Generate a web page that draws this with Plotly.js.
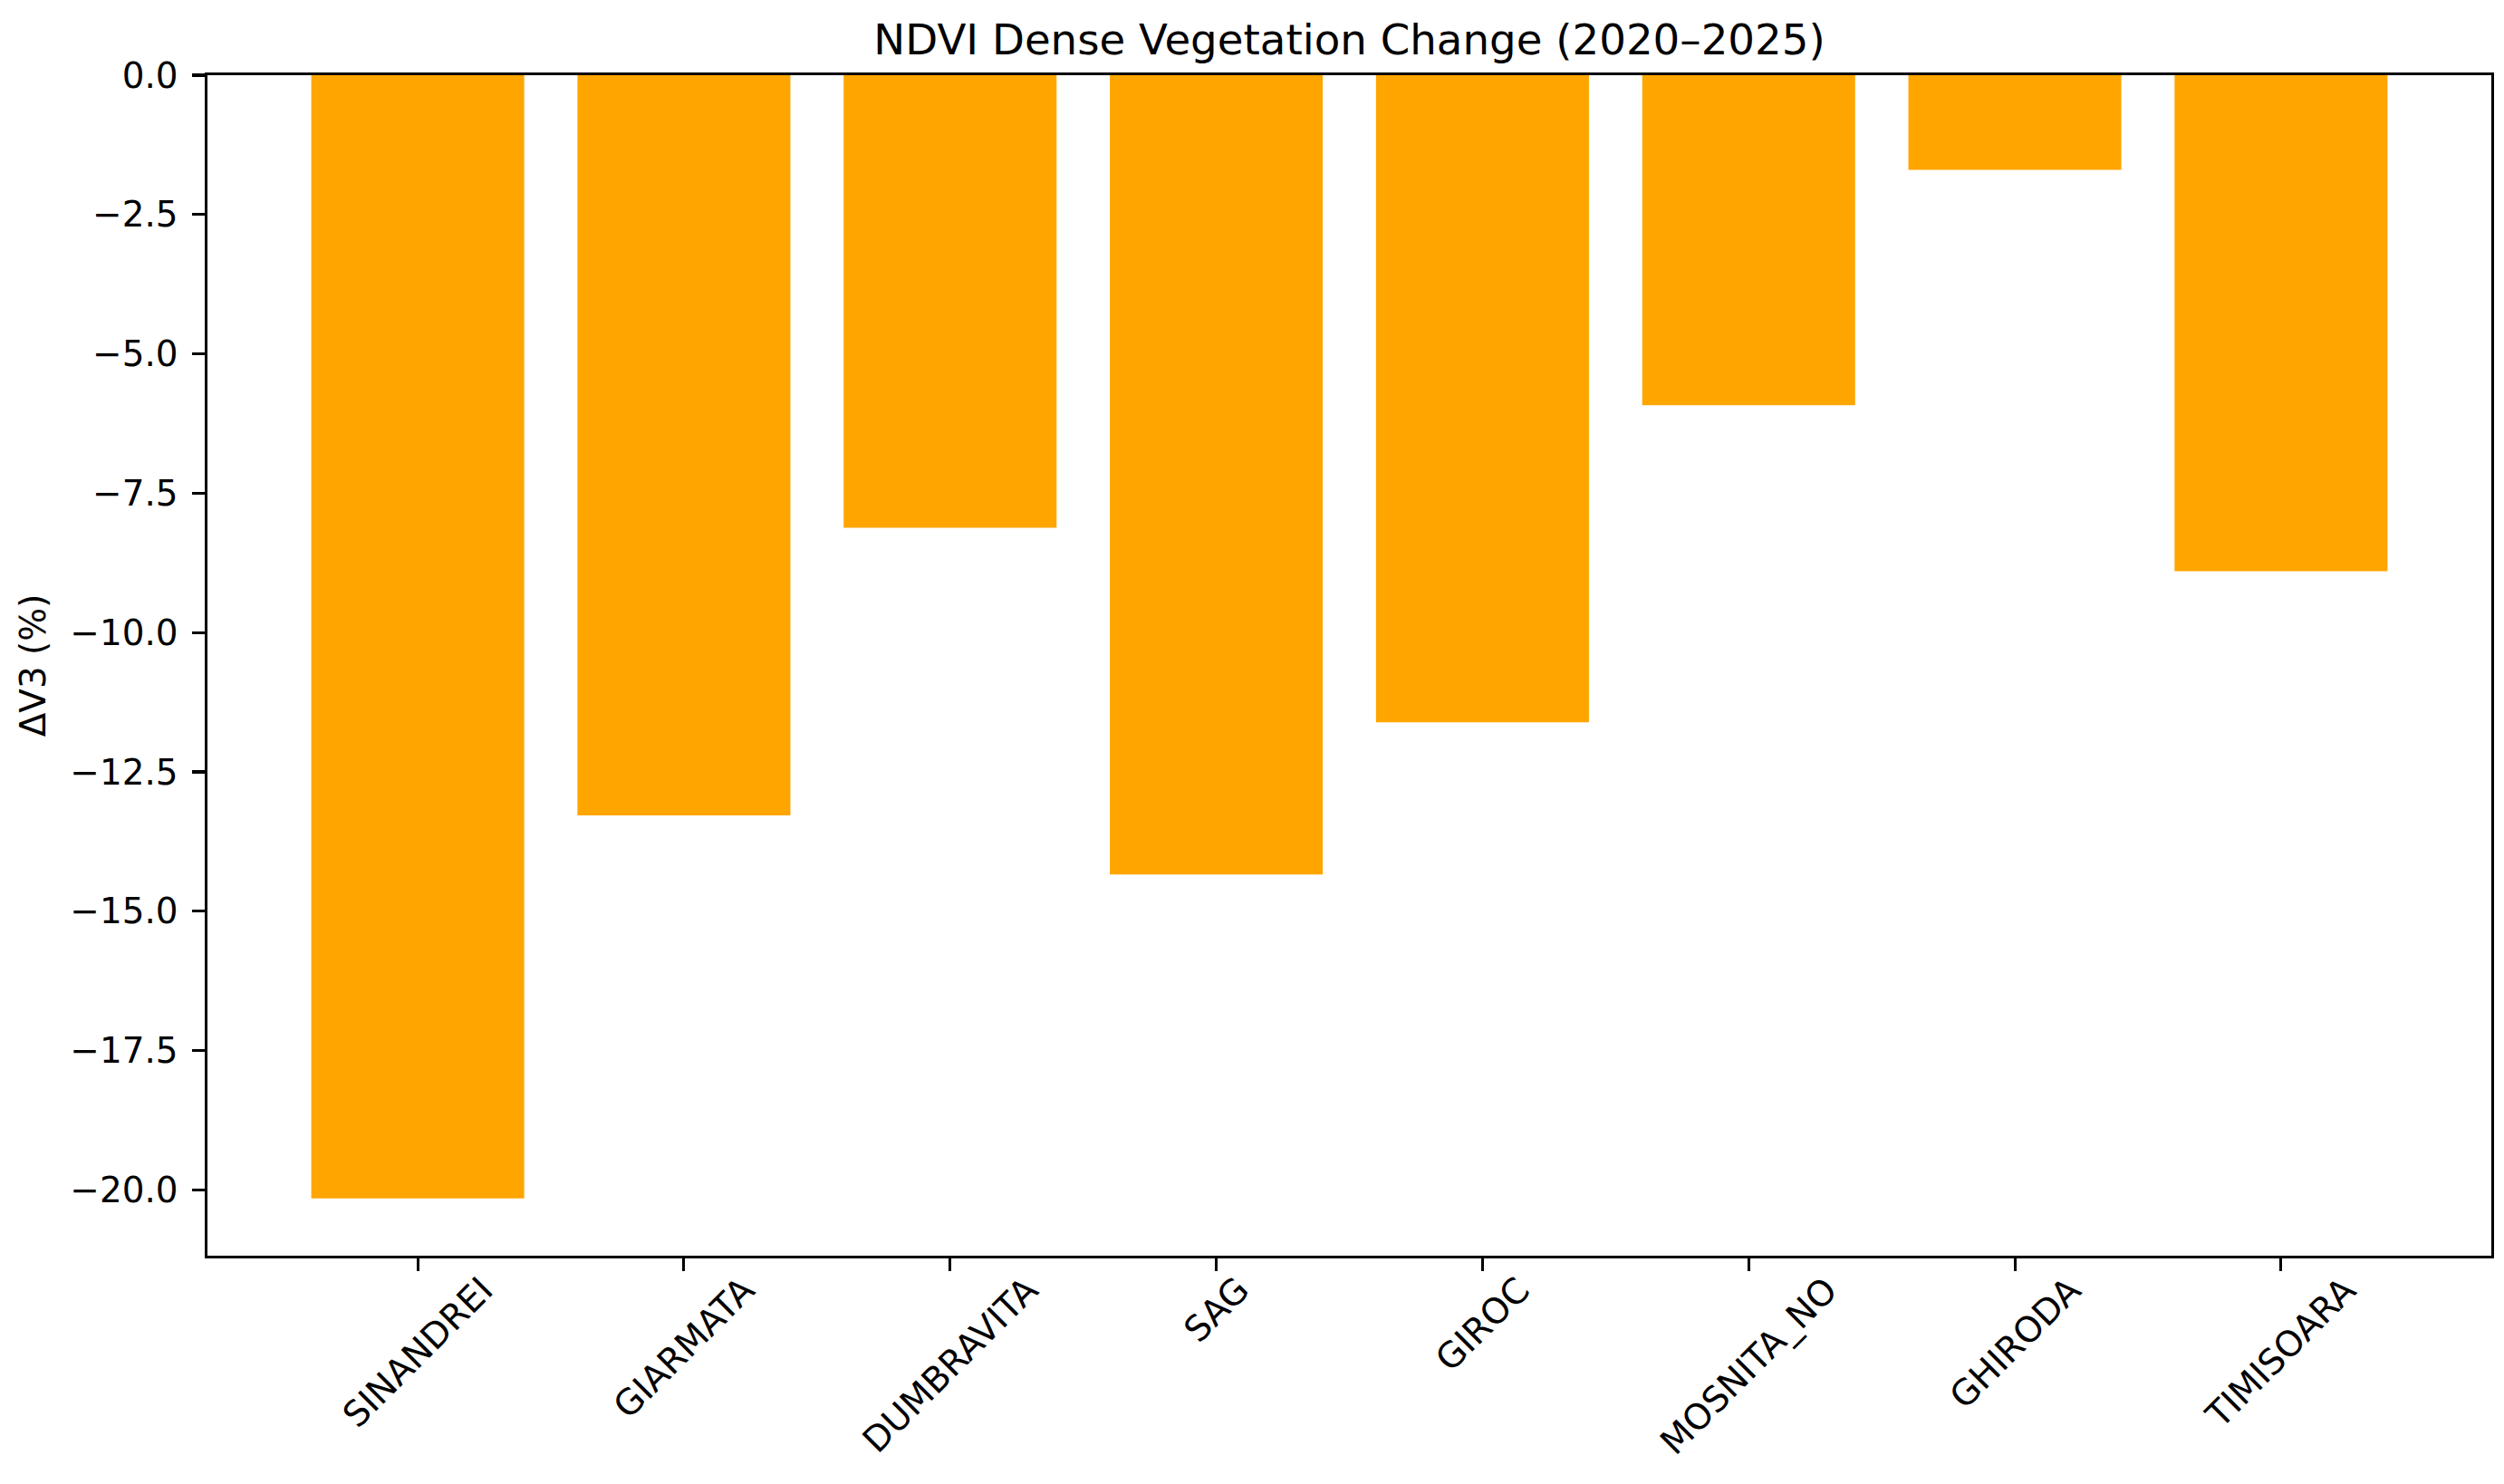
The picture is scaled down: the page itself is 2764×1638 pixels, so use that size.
<!DOCTYPE html>
<html>
<head>
<meta charset="utf-8">
<script src="https://cdn.plot.ly/plotly-3.0.1.min.js"></script>
<style>html,body{margin:0;padding:0;background:#fff;}#chart{width:2764px;height:1638px;}</style>
</head>
<body>
<div id="chart"></div>
<script>
const categories = ["SINANDREI", "GIARMATA", "DUMBRAVITA", "SAG", "GIROC", "MOSNITA_NO", "GHIRODA", "TIMISOARA"];
const deltaV3 = [-20.15, -13.28, -8.12, -14.34, -11.61, -5.92, -1.70, -8.90];
const yTickVals = [0, -2.5, -5, -7.5, -10, -12.5, -15, -17.5, -20];
const titleText = "NDVI Dense Vegetation Change (2020–2025)";
const yTitleText = "ΔV3 (%)";

const FONT = "DejaVu Sans, Liberation Sans, sans-serif";
const FS = 38.9;
const LW = 3.1;
const TL = 13.6;

const trace = {
  type: "bar",
  x: categories,
  y: deltaV3,
  width: 0.8,
  marker: {color: "#FFA500", line: {width: 0}},
  hoverinfo: "x+y"
};

const annotations = categories.map(c => ({
  x: c, xref: "x",
  y: 0, yref: "paper",
  yshift: -12,
  text: c,
  showarrow: false,
  textangle: -45,
  xanchor: "center",
  yanchor: "top",
  font: {family: FONT, size: FS, color: "#000"}
}));

const layout = {
  width: 2764,
  height: 1638,
  paper_bgcolor: "#fff",
  plot_bgcolor: "#fff",
  margin: {l: 229, r: 14, t: 83, b: 252, pad: 0},
  showlegend: false,
  bargap: 0.2,
  title: {
    text: titleText,
    font: {family: FONT, size: 46.7, color: "#000"},
    x: 0.5, xref: "paper", xanchor: "center",
    y: (1638 - 60) / 1638, yref: "container", yanchor: "bottom"
  },
  xaxis: {
    type: "category",
    range: [-0.79, 7.79],
    showticklabels: false,
    ticks: "outside",
    ticklen: TL,
    tickwidth: LW,
    tickcolor: "#000",
    showline: true,
    linecolor: "#000",
    linewidth: LW,
    mirror: true,
    showgrid: false,
    zeroline: false,
    fixedrange: true
  },
  yaxis: {
    range: [-21.18, 0],
    tickvals: yTickVals,
    tickformat: ".1f",
    ticks: "outside",
    ticklen: TL,
    tickwidth: LW,
    tickcolor: "#000",
    ticklabelstandoff: 8,
    tickfont: {family: FONT, size: FS, color: "#000"},
    showline: true,
    linecolor: "#000",
    linewidth: LW,
    mirror: true,
    showgrid: false,
    zeroline: false,
    automargin: true,
    title: {
      text: yTitleText,
      standoff: 15,
      font: {family: FONT, size: FS, color: "#000"}
    }
  },
  annotations: annotations
};

Plotly.newPlot("chart", [trace], layout, {displayModeBar: false, staticPlot: true});
</script>
</body>
</html>
